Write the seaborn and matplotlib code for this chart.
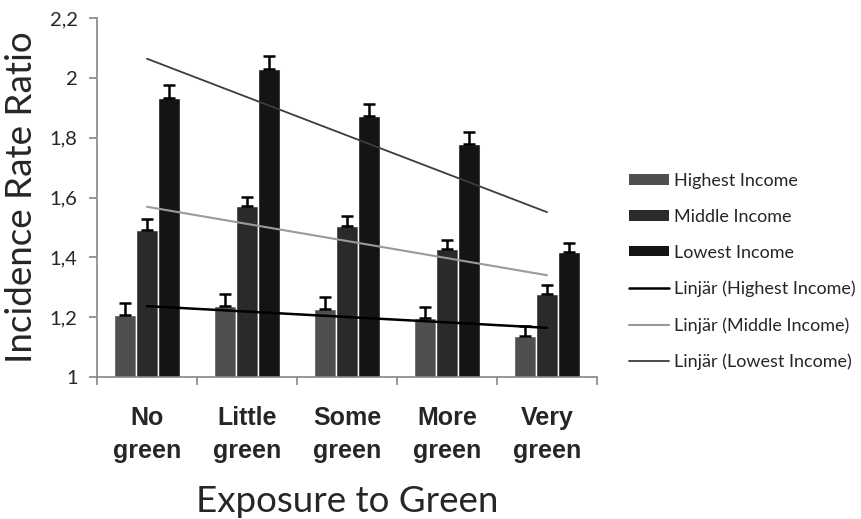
import numpy as np
import pandas as pd
import matplotlib
matplotlib.use("Agg")
import matplotlib.pyplot as plt
import seaborn as sns
from matplotlib.patches import Patch

# Data
exposure = ["No\ngreen", "Little\ngreen", "Some\ngreen", "More\ngreen", "Very\ngreen"]
income = ["Highest Income", "Middle Income", "Lowest Income"]
highest = [1.207, 1.237, 1.226, 1.196, 1.137]
middle = [1.493, 1.570, 1.504, 1.428, 1.278]
lowest = [1.934, 2.031, 1.874, 1.779, 1.419]
err_highest = [0.040, 0.039, 0.040, 0.038, 0.035]
err_middle = [0.034, 0.033, 0.034, 0.029, 0.028]
err_lowest = [0.042, 0.043, 0.040, 0.040, 0.030]
yticks = [1, 1.2, 1.4, 1.6, 1.8, 2, 2.2]

bar_colors = ["#4f4f4f", "#2a2a2a", "#141414"]
trend_colors = ["#000000", "#9a9a9a", "#3c3c3c"]
trend_widths = [1.8, 1.5, 1.3]

series = [highest, middle, lowest]
errors = [err_highest, err_middle, err_lowest]

df = pd.DataFrame({
    "exposure": exposure * 3,
    "income": np.repeat(income, len(exposure)),
    "irr": highest + middle + lowest,
})

sns.set_style("white")
plt.rcParams["font.family"] = ["Lato", "DejaVu Sans"]

fig = plt.figure(figsize=(8.61, 5.19), dpi=100)
ax = fig.add_axes([0.1127, 0.2736, 0.5807, 0.6917])

sns.barplot(data=df, x="exposure", y="irr", hue="income", palette=bar_colors,
            width=0.66, errorbar=None, ax=ax, legend=False, saturation=1)

# error bars: upper only
for cont, vals, errs in zip(ax.containers, series, errors):
    xs = [p.get_x() + p.get_width() / 2 for p in cont.patches]
    ax.errorbar(xs, vals, yerr=[np.zeros(len(errs)), errs], fmt="none",
                ecolor="black", elinewidth=1.8, capsize=4.5, capthick=1.8)

# linear trendlines
idx = np.arange(len(exposure))
for name, vals, c, lw in zip(income, series, trend_colors, trend_widths):
    k, m = np.polyfit(idx, vals, 1)
    ax.plot(idx, k * idx + m, color=c, lw=lw, label="Linjär (" + name + ")")

ax.set_ylim(1, 2.2)
ax.set_xlim(-0.5, len(exposure) - 0.5)
ax.set_yticks(yticks)
ax.set_yticklabels([f"{t:g}".replace(".", ",") for t in yticks], fontsize=14.5)
ax.set_xticks(np.arange(-0.5, len(exposure), 1))
ax.set_xticklabels([])
ax.set_xticks(idx, minor=True)
ax.set_xticklabels(exposure, minor=True, fontsize=18, fontweight="bold",
                   family=["Liberation Sans", "DejaVu Sans"], linespacing=1.45)
ax.tick_params(axis="x", which="minor", length=0, pad=21)
ax.tick_params(axis="y", pad=8)
ax.tick_params(axis="both", which="major", direction="out", length=6,
               color="#868686", width=1.2, left=True, bottom=True)
for s in ["top", "right"]:
    ax.spines[s].set_visible(False)
for s in ["left", "bottom"]:
    ax.spines[s].set_color("#868686")
    ax.spines[s].set_linewidth(1.2)

ax.set_ylabel("Incidence Rate Ratio", fontsize=26.5, labelpad=8)
ax.set_xlabel("Exposure to Green", fontsize=26.5, labelpad=16)

# legend: bars then trendlines
handles = [Patch(facecolor=c, edgecolor="none") for c in bar_colors]
labels = list(income)
h2, l2 = ax.get_legend_handles_labels()
handles += h2
labels += l2
fig.legend(handles, labels, loc="center left", bbox_to_anchor=(0.712, 0.477),
           frameon=False, fontsize=13, labelspacing=1.1, handlelength=2.2,
           handleheight=0.5, handletextpad=0.25)

fig.savefig("out.png", dpi=100)
